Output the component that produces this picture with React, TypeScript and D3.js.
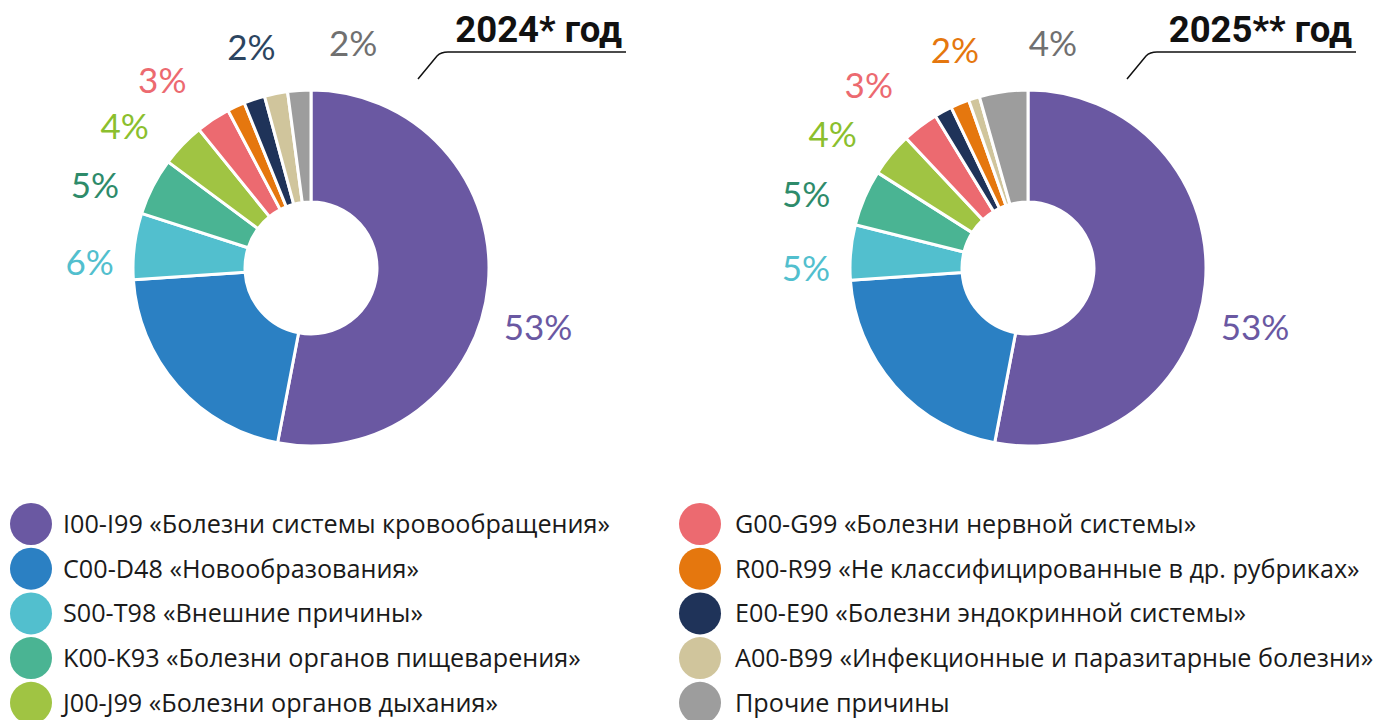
import React from "react";
import * as d3 from "d3";

const categories = [
  "I00-I99 «Болезни системы кровообращения»",
  "C00-D48 «Новообразования»",
  "S00-T98 «Внешние причины»",
  "K00-K93 «Болезни органов пищеварения»",
  "J00-J99 «Болезни органов дыхания»",
  "G00-G99 «Болезни нервной системы»",
  "R00-R99 «Не классифицированные в др. рубриках»",
  "E00-E90 «Болезни эндокринной системы»",
  "A00-B99 «Инфекционные и паразитарные болезни»",
  "Прочие причины",
];
const codes = ["I", "C", "S", "K", "J", "G", "R", "E", "A", "O"];

// values by category code
const values2024 = [52.9, 20.9, 6.0, 5.2, 4.0, 3.1, 1.6, 1.9, 2.1, 2.1];
const values2025 = [53.0, 20.9, 5.0, 5.1, 4.0, 3.3, 1.7, 1.6, 1.0, 4.4];
// slice order (clockwise from top)
const order2024 = ["I", "C", "S", "K", "J", "G", "R", "E", "A", "O"];
const order2025 = ["I", "C", "S", "K", "J", "G", "E", "R", "A", "O"];
// visible labels (null = no label)
const labels2024: Record<string, string | null> = { I: "53%", C: null, S: "6%", K: "5%", J: "4%", G: "3%", R: null, E: "2%", A: null, O: "2%" };
const labels2025: Record<string, string | null> = { I: "53%", C: null, S: "5%", K: "5%", J: "4%", G: "3%", R: "2%", E: null, A: null, O: "4%" };
const titles = ["2024* год", "2025** год"];

// styles
const sliceColors: Record<string, string> = {
  I: "#6a58a2", C: "#2b80c3", S: "#52bfce", K: "#4ab493", J: "#a0c443",
  G: "#ec6a70", R: "#e5770e", E: "#1f3359", A: "#d0c59c", O: "#9d9d9d",
};
const labelColors: Record<string, string> = {
  I: "#6a58a2", C: "#2b80c3", S: "#52bfce", K: "#2e8b6a", J: "#8bbf2e",
  G: "#ec6a70", R: "#e5770e", E: "#2c4560", A: "#b8ad85", O: "#707070",
};
// label nudges relative to arc centroid at label radius
const nudges2024: Record<string, [number, number]> = { I: [3, 38], S: [2, 22], K: [-16, 20], J: [-24, 14], G: [-25, 0], E: [12, -7], O: [57, 0] };
const nudges2025: Record<string, [number, number]> = { I: [3, 38], S: [2, 20], K: [-15, 15], J: [-22, 10], G: [-23, -4], R: [13, -10], O: [56, -2] };

const W = 1373, H = 720;
const R_OUT = 178, R_IN = 66, R_LABEL = 225;
const CY = 268;

type ChartCfg = {
  cx: number; values: number[]; order: string[]; labels: Record<string, string | null>;
  nudges: Record<string, [number, number]>; title: string; titleX: number; lineStart: number; lineEnd: number;
};

const charts: ChartCfg[] = [
  { cx: 311, values: values2024, order: order2024, labels: labels2024, nudges: nudges2024, title: titles[0], titleX: 622, lineStart: 418, lineEnd: 626 },
  { cx: 1028, values: values2025, order: order2025, labels: labels2025, nudges: nudges2025, title: titles[1], titleX: 1352, lineStart: 1127, lineEnd: 1356 },
];

function Donut({ cfg }: { cfg: ChartCfg }) {
  const data = cfg.order.map((c) => ({ code: c, value: cfg.values[codes.indexOf(c)] }));
  const pie = d3.pie<{ code: string; value: number }>().sort(null).value((d) => d.value);
  const arcs = pie(data);
  const arc = d3.arc<d3.PieArcDatum<{ code: string; value: number }>>().innerRadius(R_IN).outerRadius(R_OUT);
  const labelArc = d3.arc<d3.PieArcDatum<{ code: string; value: number }>>().innerRadius(R_LABEL).outerRadius(R_LABEL);
  const x0 = cfg.lineStart;
  const line = `M${x0},79 L${x0 + 19},56 Q${x0 + 23},52 ${x0 + 30},52 L${cfg.lineEnd},52`;
  return (
    <g>
      <g transform={`translate(${cfg.cx},${CY})`}>
        {arcs.map((a) => (
          <path key={a.data.code} d={arc(a) || ""} fill={sliceColors[a.data.code]} stroke="#fff" strokeWidth={3} strokeLinejoin="round" />
        ))}
        {arcs.map((a) => {
          const t = cfg.labels[a.data.code];
          if (!t) return null;
          const [lx, ly] = labelArc.centroid(a);
          const n = cfg.nudges[a.data.code] || [0, 0];
          return (
            <text key={"l" + a.data.code} x={lx + n[0]} y={ly + n[1]} dy="0.36em" textAnchor="middle"
              fontFamily="Lato, sans-serif" fontSize={35} fill={labelColors[a.data.code]}>{t}</text>
          );
        })}
      </g>
      <text x={cfg.titleX} y={42} textAnchor="end" fontFamily="Roboto, sans-serif" fontWeight={700} fontSize={36.5} fill="#111">{cfg.title}</text>
      <path d={line} fill="none" stroke="#111" strokeWidth={1.5} />
    </g>
  );
}

export default function App() {
  const rowY = (i: number) => 524 + i * 44.7;
  return (
    <svg width={W} height={H} style={{ position: "absolute", left: 0, top: 0, background: "#fff" }}>
      {charts.map((c, i) => <Donut key={i} cfg={c} />)}
      {categories.map((name, i) => {
        const col = i < 5 ? 0 : 1;
        const row = i % 5;
        const cx = col === 0 ? 31 : 700;
        const tx = col === 0 ? 63 : 735;
        const y = rowY(row);
        return (
          <g key={name}>
            <circle cx={cx} cy={y} r={21} fill={sliceColors[codes[i]]} />
            <text x={tx} y={y} dy="0.36em" fontFamily="'Open Sans', sans-serif" fontSize={25.2} fill="#1a1a1a">{name}</text>
          </g>
        );
      })}
    </svg>
  );
}
